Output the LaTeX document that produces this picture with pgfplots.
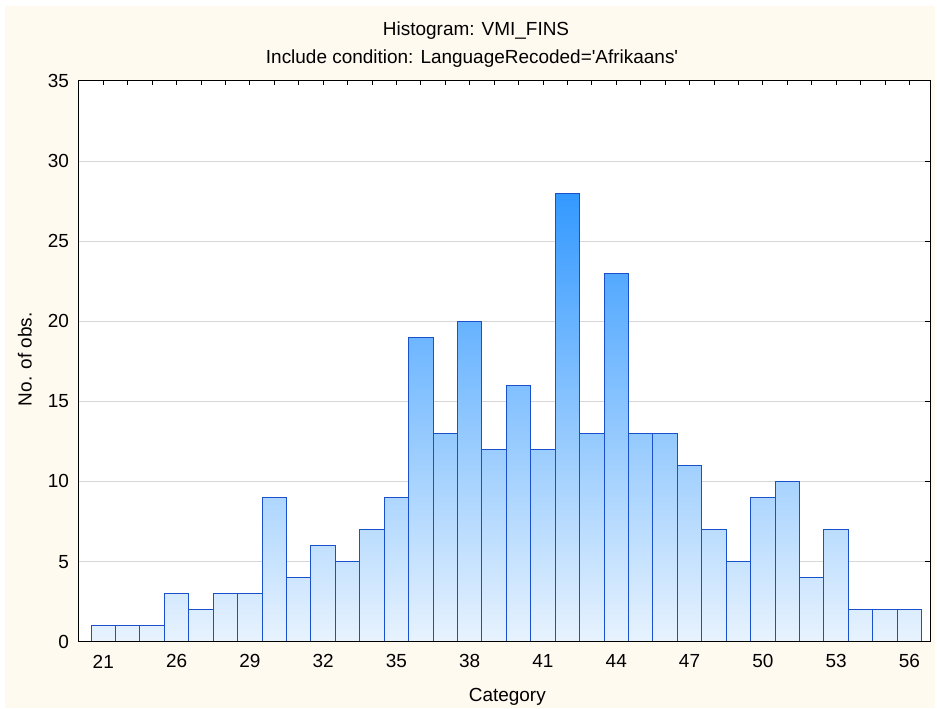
\documentclass[border=0pt]{standalone}
\usepackage{pgfplots}
\pgfplotsset{compat=1.18}
\usepackage{fontspec}
\setmainfont{Liberation Sans}
\definecolor{cream}{HTML}{FFFAF0}
\definecolor{barline}{RGB}{25,80,205}
\definecolor{bartop}{RGB}{51,153,255}
\definecolor{barbot}{RGB}{232,243,254}
\definecolor{gridc}{RGB}{215,215,215}
\newcommand{\fs}{\fontsize{19}{22}\selectfont}
\begin{document}
\begin{tikzpicture}[x=1pt,y=1pt]
\fill[white] (-79,-67) rectangle (858,643);
\fill[cream] (-74,-66) rectangle (858,637);
\begin{axis}[
  at={(0,0)}, anchor=south west,
  scale only axis, width=853pt, height=562pt,
  xmin=-1, xmax=33.85, ymin=0, ymax=35,
  axis background/.style={fill=white},
  axis line style={black, line width=0.9pt},
  xtick={0,3,...,33},
  xticklabels={21,26,29,32,35,38,41,44,47,50,53,56},
  minor xtick={0,...,33},
  xtick pos=both, tick align=inside,
  major tick length=4pt, minor tick length=4pt,
  ytick={0,5,...,35},
  ytick pos=left, ytick style={draw=none},
  ymajorgrids, grid style={gridc, line width=0.8pt},
  tick style={black, line width=0.8pt},
  /pgf/number format/assume math mode=true,
  tick label style={font=\fs},
  xticklabel style={anchor=center, yshift=-19.7pt},
  yticklabel style={anchor=east, inner xsep=0pt, xshift=-9.7pt},
]
\addplot[const plot, draw=none, top color=bartop, bottom color=barbot] coordinates {
(-0.5,1)(0.5,1)(1.5,1)(2.5,3)(3.5,2)(4.5,3)(5.5,3)(6.5,9)(7.5,4)(8.5,6)
(9.5,5)(10.5,7)(11.5,9)(12.5,19)(13.5,13)(14.5,20)(15.5,12)(16.5,16)(17.5,12)(18.5,28)
(19.5,13)(20.5,23)(21.5,13)(22.5,13)(23.5,11)(24.5,7)(25.5,5)(26.5,9)(27.5,10)(28.5,4)
(29.5,7)(30.5,2)(31.5,2)(32.5,2)(33.5,2)} \closedcycle;
\addplot[ybar, bar width=1, fill=none, draw=barline, line width=1pt] coordinates {
(0,1)(1,1)(2,1)(3,3)(4,2)(5,3)(6,3)(7,9)(8,4)(9,6)
(10,5)(11,7)(12,9)(13,19)(14,13)(15,20)(16,12)(17,16)(18,12)(19,28)
(20,13)(21,23)(22,13)(23,13)(24,11)(25,7)(26,5)(27,9)(28,10)(29,4)
(30,7)(31,2)(32,2)(33,2)};
\end{axis}
\begin{axis}[
  at={(0,0)}, anchor=south west,
  scale only axis, width=853pt, height=562pt,
  xmin=-1, xmax=33.85, ymin=0, ymax=35,
  axis line style={black, line width=0.9pt},
  xtick=\empty, ytick={5,10,...,30}, yticklabels={},
  ytick pos=right, tick align=inside, major tick length=5pt,
  tick style={black, line width=0.8pt},
]
\end{axis}
\node[font=\fs, anchor=base] at (398,607) {Histogram: VMI\_FINS};
\node[font=\fs, anchor=base] at (394,579.7) {Include condition: LanguageRecoded=\textquotesingle Afrikaans\textquotesingle};
\node[font=\fs, anchor=base] at (429.3,-60) {Category};
\node[font=\fs, rotate=90, anchor=base] at (-47.3,283) {No. of obs.};
\end{tikzpicture}
\end{document}
